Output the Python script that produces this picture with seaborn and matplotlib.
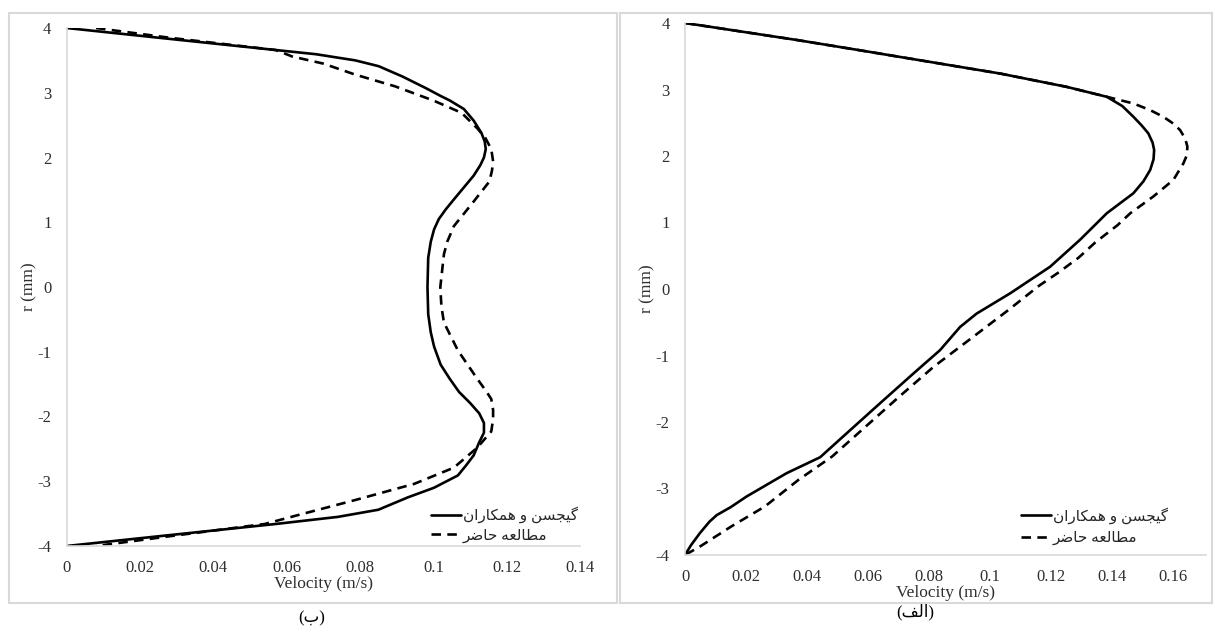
import matplotlib
matplotlib.use("Agg")
import matplotlib.pyplot as plt
import pandas as pd
import seaborn as sns
from matplotlib.patches import Rectangle
from matplotlib.ticker import FuncFormatter

# panel (ب) - left
r_b_gijsen = [4.0, 3.85, 3.66, 3.595, 3.50, 3.41, 3.25, 3.07, 2.95, 2.88, 2.75, 2.57, 2.38, 2.25, 2.13,
              2.0, 1.88, 1.72, 1.57, 1.38, 1.20, 1.05, 0.89, 0.70, 0.45, 0.0, -0.42, -0.70, -0.92,
              -1.20, -1.42, -1.62, -1.79, -1.95, -2.10, -2.25, -2.40, -2.60, -2.75, -2.91, -3.10,
              -3.25, -3.44, -3.55, -3.66, -3.85, -4.0]
v_b_gijsen = [0.0, 0.025, 0.057, 0.068, 0.0787, 0.0851, 0.0916, 0.098, 0.102, 0.1045, 0.1083, 0.111,
              0.1131, 0.1140, 0.1143, 0.1138, 0.1128, 0.111, 0.1088, 0.106, 0.1034, 0.1015, 0.1002,
              0.0993, 0.0986, 0.0984, 0.0986, 0.0993, 0.1002, 0.102, 0.1045, 0.107, 0.110, 0.1125,
              0.1138, 0.1138, 0.1125, 0.111, 0.109, 0.1067, 0.1002, 0.093, 0.085, 0.074, 0.057,
              0.025, 0.0]
r_b_present = [4.0, 3.85, 3.66, 3.56, 3.45, 3.28, 3.10, 2.88, 2.69, 2.45, 2.30, 2.13, 1.94, 1.80, 1.63,
               1.32, 0.94, 0.70, 0.51, 0.0, -0.30, -0.55, -0.98, -1.42, -1.60, -1.73, -1.90, -2.04,
               -2.23, -2.48, -2.79, -3.04, -3.29, -3.53, -3.66, -3.85, -4.0]
v_b_present = [0.008, 0.028, 0.057, 0.0615, 0.070, 0.0787, 0.0895, 0.100, 0.1077, 0.112, 0.1142,
               0.1158, 0.1163, 0.116, 0.1153, 0.111, 0.1056, 0.1038, 0.1029, 0.1019, 0.1022, 0.1029,
               0.1067, 0.112, 0.1143, 0.1158, 0.1163, 0.1163, 0.1158, 0.112, 0.1056, 0.0948, 0.0787,
               0.0626, 0.054, 0.028, 0.008]

# panel (الف) - right
r_a_gijsen = [4.0, 3.745, 3.60, 3.44, 3.24, 3.04, 2.89, 2.75, 2.59, 2.46, 2.34, 2.20, 2.09, 1.95,
              1.79, 1.62, 1.44, 1.14, 0.74, 0.335, -0.065, -0.37, -0.57, -0.92, -1.27, -1.72, -2.17,
              -2.53, -2.77, -3.12, -3.28, -3.40, -3.50, -3.67, -3.85, -4.0]
v_a_gijsen = [0.0, 0.0366, 0.056, 0.077, 0.1033, 0.1251, 0.1383, 0.1434, 0.147, 0.1497, 0.1519,
              0.1533, 0.1538, 0.1536, 0.1525, 0.1503, 0.147, 0.1383, 0.1295, 0.1197, 0.1066, 0.0956,
              0.0902, 0.0836, 0.0749, 0.0639, 0.053, 0.0443, 0.0333, 0.0202, 0.015, 0.0104, 0.008,
              0.0049, 0.002, 0.0]
r_a_present = [4.0, 3.745, 3.60, 3.44, 3.24, 3.04, 2.89, 2.79, 2.69, 2.59, 2.49, 2.39, 2.26, 2.14,
               2.01, 1.89, 1.64, 1.39, 1.14, 0.96, 0.70, 0.47, 0.25, 0.05, -0.32, -0.68, -1.17,
               -1.62, -2.07, -2.52, -2.87, -3.27, -3.57, -3.87, -4.0]
v_a_present = [0.0, 0.0366, 0.056, 0.077, 0.1033, 0.1251, 0.1383, 0.147, 0.1525, 0.1568, 0.160,
               0.1623, 0.1640, 0.1647, 0.1645, 0.1634, 0.1601, 0.1535, 0.1460, 0.1418, 0.1345,
               0.129, 0.1225, 0.1161, 0.1059, 0.0956, 0.0815, 0.0702, 0.0592, 0.0482, 0.0372,
               0.0262, 0.0152, 0.005, 0.0]

label_gijsen = "گیجسن و همکاران"
label_present = "مطالعه حاضر"
caption_b = "(ب)"
caption_a = "(الف)"
xlabel = "Velocity (m/s)"
ylabel = "r (mm)"
r_ticks = [-4, -3, -2, -1, 0, 1, 2, 3, 4]
v_ticks_b = [0, 0.02, 0.04, 0.06, 0.08, 0.1, 0.12, 0.14]
v_ticks_a = [0, 0.02, 0.04, 0.06, 0.08, 0.1, 0.12, 0.14, 0.16]

# matplotlib has no arabic shaping: pick presentation forms by hand
# (isolated, final, initial, medial); None -> letter does not join to the left
FORMS = {
    "ا": ("\uFE8D", "\uFE8E", None, None),
    "ب": ("\uFE8F", "\uFE90", "\uFE91", "\uFE92"),
    "ج": ("\uFE9D", "\uFE9E", "\uFE9F", "\uFEA0"),
    "ح": ("\uFEA1", "\uFEA2", "\uFEA3", "\uFEA4"),
    "ر": ("\uFEAD", "\uFEAE", None, None),
    "س": ("\uFEB1", "\uFEB2", "\uFEB3", "\uFEB4"),
    "ض": ("\uFEBD", "\uFEBE", "\uFEBF", "\uFEC0"),
    "ط": ("\uFEC1", "\uFEC2", "\uFEC3", "\uFEC4"),
    "ع": ("\uFEC9", "\uFECA", "\uFECB", "\uFECC"),
    "ف": ("\uFED1", "\uFED2", "\uFED3", "\uFED4"),
    "ل": ("\uFEDD", "\uFEDE", "\uFEDF", "\uFEE0"),
    "م": ("\uFEE1", "\uFEE2", "\uFEE3", "\uFEE4"),
    "ن": ("\uFEE5", "\uFEE6", "\uFEE7", "\uFEE8"),
    "ه": ("\uFEE9", "\uFEEA", "\uFEEB", "\uFEEC"),
    "و": ("\uFEED", "\uFEEE", None, None),
    "ک": ("\uFB8E", "\uFB8F", "\uFB90", "\uFB91"),
    "گ": ("\uFB92", "\uFB93", "\uFB94", "\uFB95"),
    "ی": ("\uFBFC", "\uFBFD", "\uFBFE", "\uFBFF"),
}
MIRROR = {"(": ")", ")": "("}


def rtl(text):
    out = []
    for i, ch in enumerate(text):
        if ch not in FORMS:
            out.append(ch)
            continue
        prev = text[i - 1] if i > 0 else ""
        nxt = text[i + 1] if i < len(text) - 1 else ""
        join_prev = prev in FORMS and FORMS[prev][2] is not None
        join_next = nxt in FORMS and FORMS[ch][2] is not None
        if join_prev and join_next:
            out.append(FORMS[ch][3])
        elif join_prev:
            out.append(FORMS[ch][1])
        elif join_next:
            out.append(FORMS[ch][2])
        else:
            out.append(FORMS[ch][0])
    return "".join(MIRROR.get(c, c) for c in reversed(out))


sns.set_style("white")
plt.rcParams["font.family"] = ["Liberation Serif", "DejaVu Sans"]
plt.rcParams["axes.unicode_minus"] = False

W, H = 1216, 632
fig = plt.figure(figsize=(W / 100, H / 100), dpi=100)

grey = "#d9d9d9"
txt = "#2e2e2e"


def panel(rect, v1, r1, v2, r2, xmax, xticks, leg_anchor, leg_space):
    ax = fig.add_axes(rect)
    df1 = pd.DataFrame({"v": v1, "r": r1})
    df2 = pd.DataFrame({"v": v2, "r": r2})
    sns.lineplot(data=df2, x="v", y="r", sort=False, estimator=None, color="black",
                 lw=1.9, linestyle=(0, (3.6, 2.4)), label=rtl(label_present), ax=ax)
    sns.lineplot(data=df1, x="v", y="r", sort=False, estimator=None, color="black",
                 lw=1.9, label=rtl(label_gijsen), ax=ax)
    ax.set_xlim(0, xmax)
    ax.set_ylim(-4, 4)
    ax.set_xticks(xticks)
    ax.set_yticks(r_ticks)
    ax.xaxis.set_major_formatter(FuncFormatter(lambda x, p: "{:g}".format(round(x, 2))))
    for s in ["top", "right"]:
        ax.spines[s].set_visible(False)
    for s in ["left", "bottom"]:
        ax.spines[s].set_color(grey)
        ax.spines[s].set_linewidth(1.2)
    ax.tick_params(axis="x", length=3, color=grey, pad=7, labelsize=12, labelcolor=txt)
    ax.tick_params(axis="y", length=0, pad=11, labelsize=12, labelcolor=txt)
    ax.set_xlabel(xlabel, fontsize=12.5, color=txt, labelpad=0)
    ax.set_ylabel(ylabel, fontsize=12.5, color=txt, labelpad=0)
    h, l = ax.get_legend_handles_labels()
    ax.legend(h[::-1], l[::-1], loc="lower right", bbox_to_anchor=leg_anchor, frameon=False,
              fontsize=11, handlelength=2.0, handletextpad=0.1, labelspacing=leg_space,
              borderpad=0, borderaxespad=0)
    return ax


ax_b = panel([66.7 / W, 1 - 546 / H, 513.3 / W, 518 / H], v_b_gijsen, r_b_gijsen,
             v_b_present, r_b_present, 0.14, v_ticks_b, (0.996, 0.006), 0.35)
ax_a = panel([685 / W, 1 - 555 / H, 521 / W, 532 / H], v_a_gijsen, r_a_gijsen,
             v_a_present, r_a_present, 0.1708, v_ticks_a, (0.927, 0.018), 0.5)

# light frames around each panel, like the pasted excel charts
fig.add_artist(Rectangle((8.7 / W, 1 - 603 / H), 608.3 / W, 590.3 / H, transform=fig.transFigure,
                         fill=False, edgecolor=grey, lw=1.5))
fig.add_artist(Rectangle((620 / W, 1 - 603 / H), 592 / W, 590.3 / H, transform=fig.transFigure,
                         fill=False, edgecolor=grey, lw=1.5))

fig.text(312 / W, 1 - 618 / H, rtl(caption_b), ha="center", va="center", fontsize=12, color="black")
fig.text(915 / W, 1 - 612 / H, rtl(caption_a), ha="center", va="center", fontsize=12, color="black")

fig.savefig("out.png", dpi=100)
